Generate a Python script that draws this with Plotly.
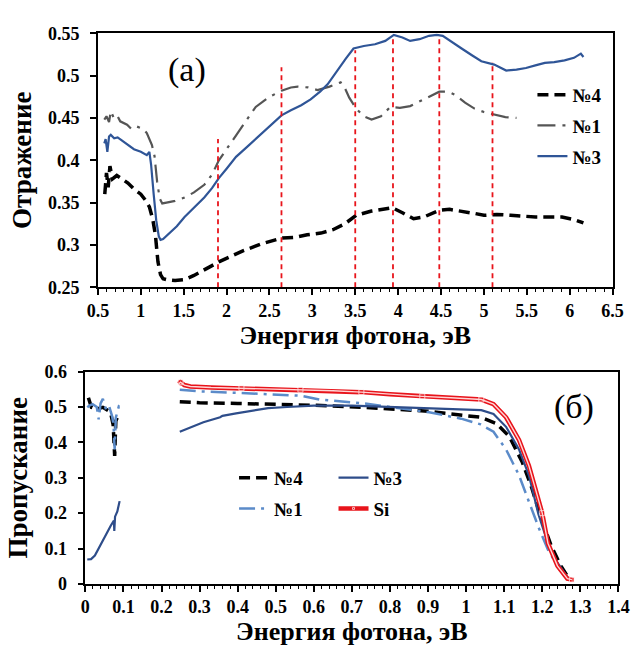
import plotly.graph_objects as go

# ---------------- data: panel (a) reflection ----------------
x_n4_a = [0.58, 0.60, 0.62, 0.64, 0.67, 0.72, 0.78, 0.85, 0.92, 1.00, 1.06, 1.10, 1.14, 1.17, 1.20, 1.23, 1.26, 1.30, 1.40, 1.51, 1.62, 1.72, 1.82, 1.91, 2.05, 2.19, 2.40, 2.64, 2.80, 2.94, 3.10, 3.24, 3.38, 3.51, 3.69, 3.93, 4.05, 4.18, 4.30, 4.48, 4.60, 4.75, 4.90, 5.00, 5.15, 5.31, 5.45, 5.60, 5.75, 5.91, 6.05, 6.16]
y_n4_a = [0.36, 0.385, 0.368, 0.393, 0.378, 0.382, 0.378, 0.373, 0.366, 0.36, 0.352, 0.345, 0.33, 0.312, 0.28, 0.265, 0.26, 0.259, 0.258, 0.259, 0.264, 0.27, 0.275, 0.28, 0.287, 0.293, 0.301, 0.308, 0.309, 0.312, 0.314, 0.318, 0.325, 0.335, 0.34, 0.344, 0.338, 0.331, 0.333, 0.341, 0.342, 0.34, 0.337, 0.335, 0.336, 0.335, 0.334, 0.333, 0.333, 0.333, 0.33, 0.326]

x_n1_a = [0.575, 0.60, 0.63, 0.65, 0.69, 0.73, 0.76, 0.80, 0.84, 0.89, 0.95, 1.00, 1.03, 1.07, 1.10, 1.13, 1.16, 1.19, 1.22, 1.25, 1.30, 1.40, 1.51, 1.62, 1.74, 1.83, 1.91, 2.00, 2.11, 2.22, 2.34, 2.50, 2.64, 2.75, 2.83, 2.95, 3.06, 3.20, 3.28, 3.33, 3.38, 3.43, 3.51, 3.60, 3.69, 3.80, 3.91, 4.02, 4.14, 4.30, 4.48, 4.58, 4.67, 4.78, 4.89, 5.00, 5.12, 5.25, 5.38]
y_n1_a = [0.448, 0.452, 0.445, 0.458, 0.449, 0.452, 0.446, 0.444, 0.442, 0.437, 0.44, 0.438, 0.437, 0.432, 0.425, 0.418, 0.405, 0.375, 0.355, 0.349, 0.35, 0.352, 0.356, 0.362, 0.371, 0.383, 0.40, 0.413, 0.43, 0.446, 0.463, 0.475, 0.482, 0.486, 0.487, 0.486, 0.483, 0.487, 0.49, 0.492, 0.485, 0.474, 0.461, 0.452, 0.448, 0.452, 0.463, 0.462, 0.464, 0.472, 0.481, 0.481, 0.477, 0.468, 0.461, 0.457, 0.454, 0.451, 0.45]

x_n3_a = [0.575, 0.59, 0.61, 0.63, 0.65, 0.69, 0.73, 0.80, 0.86, 0.92, 1.00, 1.07, 1.10, 1.12, 1.15, 1.18, 1.21, 1.23, 1.26, 1.35, 1.42, 1.51, 1.62, 1.74, 1.83, 1.91, 2.00, 2.11, 2.22, 2.34, 2.50, 2.64, 2.75, 2.87, 2.98, 3.09, 3.18, 3.28, 3.39, 3.48, 3.60, 3.73, 3.85, 3.95, 4.05, 4.14, 4.25, 4.36, 4.45, 4.52, 4.63, 4.74, 4.86, 4.97, 5.12, 5.26, 5.38, 5.49, 5.60, 5.71, 5.82, 5.94, 6.05, 6.13, 6.16]
y_n3_a = [0.42, 0.425, 0.41, 0.428, 0.43, 0.426, 0.427, 0.422, 0.418, 0.413, 0.41, 0.406, 0.41, 0.395, 0.36, 0.329, 0.31, 0.306, 0.307, 0.315, 0.322, 0.333, 0.344, 0.356, 0.367, 0.379, 0.39, 0.404, 0.414, 0.425, 0.44, 0.453, 0.459, 0.465, 0.472, 0.481, 0.49, 0.505, 0.52, 0.532, 0.535, 0.537, 0.541, 0.548, 0.545, 0.541, 0.543, 0.547, 0.548, 0.547, 0.54, 0.532, 0.524, 0.517, 0.513, 0.506, 0.507, 0.509, 0.512, 0.515, 0.516, 0.518, 0.521, 0.526, 0.522]

peak_x = [1.9, 2.64, 3.5, 3.94, 4.48, 5.1]
peak_top = [0.425, 0.51, 0.53, 0.545, 0.545, 0.516]

# ---------------- data: panel (б) transmission ----------------
x_n4_b = [0.008, 0.016, 0.029, 0.046, 0.06, 0.067, 0.073, 0.077, 0.08, 0.084, 0.088, None, 0.248, 0.3, 0.4, 0.5, 0.6, 0.734, 0.818, 0.9, 0.945, 1.0, 1.038, 1.08, 1.114, 1.148, 1.173, 1.194, 1.224, 1.249, 1.27, 1.275]
y_n4_b = [0.526, 0.499, 0.494, 0.499, 0.49, 0.48, 0.45, 0.362, 0.46, 0.471, 0.467, None, 0.515, 0.512, 0.51, 0.508, 0.505, 0.499, 0.494, 0.488, 0.482, 0.476, 0.471, 0.453, 0.416, 0.343, 0.27, 0.197, 0.106, 0.051, 0.015, 0.012]

x_n1_b = [0.005, 0.012, 0.019, 0.025, 0.03, 0.035, 0.04, 0.046, 0.055, 0.063, 0.07, 0.074, 0.077, 0.08, 0.084, 0.088, 0.092, None, 0.248, 0.3, 0.4, 0.48, 0.565, 0.616, 0.734, 0.87, 0.903, 0.987, 1.038, 1.072, 1.105, 1.139, 1.165, 1.19, 1.215, 1.24, 1.266, 1.275]
y_n1_b = [0.499, 0.505, 0.508, 0.503, 0.5, 0.465, 0.51, 0.523, 0.49, 0.5, 0.475, 0.45, 0.38, 0.47, 0.49, 0.502, 0.5, None, 0.549, 0.544, 0.54, 0.537, 0.532, 0.521, 0.51, 0.49, 0.485, 0.467, 0.451, 0.43, 0.38, 0.307, 0.234, 0.161, 0.097, 0.051, 0.019, 0.012]

x_n3_b = [0.005, 0.015, 0.025, 0.033, 0.05, 0.067, 0.075, 0.076, 0.078, 0.084, 0.09, None, 0.248, 0.28, 0.31, 0.354, 0.36, 0.396, 0.44, 0.48, 0.53, 0.6, 0.7, 0.8, 0.9, 0.97, 1.04, 1.072, 1.105, 1.139, 1.165, 1.19, 1.215, 1.24, 1.266, 1.275]
y_n3_b = [0.069, 0.07, 0.08, 0.097, 0.133, 0.165, 0.179, 0.15, 0.19, 0.205, 0.234, None, 0.43, 0.445, 0.457, 0.471, 0.475, 0.482, 0.49, 0.497, 0.5, 0.504, 0.504, 0.5, 0.497, 0.494, 0.491, 0.48, 0.444, 0.38, 0.307, 0.197, 0.115, 0.06, 0.019, 0.012]

x_si = [0.245, 0.25, 0.26, 0.276, 0.33, 0.41, 0.49, 0.565, 0.65, 0.725, 0.8, 0.885, 0.96, 1.04, 1.072, 1.105, 1.139, 1.165, 1.2, 1.215, 1.24, 1.266, 1.278]
y_si = [0.565, 0.57, 0.562, 0.558, 0.555, 0.553, 0.551, 0.549, 0.546, 0.542, 0.536, 0.53, 0.526, 0.521, 0.508, 0.471, 0.407, 0.334, 0.2, 0.115, 0.051, 0.015, 0.012]
si_marked = [0, 1, 0, 0, 0, 1, 0, 1, 0, 1, 0, 1, 0, 1, 0, 0, 0, 0, 1, 0, 0, 0, 1]

# ---------------- styling ----------------
SERIF = "Liberation Serif"
BLACK = "#000000"
GRAY = "#555555"
DBLUE = "#2f5597"
DBLUE2 = "#2e4d8a"
LBLUE = "#5b8bc9"
RED = "#e8141b"

fig = go.Figure()

# panel (a)
fig.add_trace(go.Scatter(x=x_n4_a, y=y_n4_a, mode="lines", name="№4", legend="legend", legendgroup="a4",
                         line=dict(color=BLACK, width=3.5, dash="11px,6px"), xaxis="x", yaxis="y"))
fig.add_trace(go.Scatter(x=x_n1_a, y=y_n1_a, mode="lines", name="№1", legend="legend", legendgroup="a1",
                         line=dict(color=GRAY, width=2.2, dash="18px,7px,3px,7px"), xaxis="x", yaxis="y"))
fig.add_trace(go.Scatter(x=x_n3_a, y=y_n3_a, mode="lines", name="№3", legend="legend", legendgroup="a3",
                         line=dict(color=DBLUE, width=2.2), xaxis="x", yaxis="y"))

# panel (б)
fig.add_trace(go.Scatter(x=x_n4_b, y=y_n4_b, mode="lines", name="№4", legend="legend2", legendgroup="b4",
                         line=dict(color=BLACK, width=3.5, dash="11px,6px"), xaxis="x2", yaxis="y2"))
fig.add_trace(go.Scatter(x=x_n1_b, y=y_n1_b, mode="lines", name="№1", legend="legend2", legendgroup="b1",
                         line=dict(color=LBLUE, width=2.5, dash="16px,6px,3px,6px"), xaxis="x2", yaxis="y2"))
fig.add_trace(go.Scatter(x=x_n3_b, y=y_n3_b, mode="lines", name="№3", legend="legend3", legendgroup="b3",
                         line=dict(color=DBLUE2, width=2.2), xaxis="x2", yaxis="y2"))
fig.add_trace(go.Scatter(x=x_si, y=y_si, mode="lines+markers", name="Si", legend="legend3", legendgroup="b5",
                         line=dict(color=RED, width=4.5),
                         marker=dict(color=RED, size=[5 * m for m in si_marked], symbol="square"),
                         xaxis="x2", yaxis="y2"))
fig.add_trace(go.Scatter(x=x_si, y=y_si, mode="lines", showlegend=False, hoverinfo="skip",
                         line=dict(color="#ffd6d6", width=1.4), xaxis="x2", yaxis="y2"))

# vertical red dashed markers of features in (a)
for px, pt in zip(peak_x, peak_top):
    fig.add_shape(type="line", xref="x", yref="y", x0=px, x1=px, y0=0.25, y1=pt,
                  line=dict(color=RED, width=1.8, dash="5px,4px"))

tickfont = dict(family=SERIF, size=18, color="black", weight="bold")
titlefont = dict(family=SERIF, size=26, color="black", weight="bold")
ytitlefont = dict(family=SERIF, size=27, color="black", weight="bold")
legfont = dict(family=SERIF, size=19, color="black", weight="bold")

axis_common = dict(showline=True, linecolor="black", linewidth=1.5, mirror=True,
                   showgrid=False, zeroline=False, ticks="outside", ticklen=6, tickwidth=1.5,
                   tickcolor="black", tickfont=tickfont)

fig.update_layout(
    width=640, height=655, margin=dict(l=0, r=0, t=0, b=0),
    paper_bgcolor="white", plot_bgcolor="white",
    xaxis=dict(domain=[90 / 640, 623 / 640], anchor="y", range=[0.5, 6.5], tick0=0.5, dtick=0.5,
               minor=dict(dtick=0.1, ticks="outside", ticklen=3, tickwidth=1, tickcolor="black"),
               title=dict(text="Энергия фотона, эВ", font=titlefont, standoff=0), **axis_common),
    yaxis=dict(domain=[1 - 286 / 655, 1 - 24 / 655], anchor="x", range=[0.25, 0.55], dtick=0.05,
               ticklabelstandoff=7,
               title=dict(text="Отражение", font=ytitlefont, standoff=9),
               **axis_common),
    xaxis2=dict(domain=[77 / 640, 629 / 640], anchor="y2", range=[0, 1.4], dtick=0.1,
                minor=dict(dtick=0.02, ticks="outside", ticklen=3, tickwidth=1, tickcolor="black"),
                title=dict(text="Энергия фотона, эВ", font=titlefont, standoff=0), **axis_common),
    yaxis2=dict(domain=[1 - 592 / 655, 1 - 373 / 655], anchor="x2", range=[0, 0.6], dtick=0.1,
                ticklabelstandoff=7,
                title=dict(text="Пропускание", font=ytitlefont, standoff=9),
                **axis_common),
    legend=dict(x=540 / 640, y=1 - 68 / 655, xanchor="left", yanchor="top", font=legfont,
                bgcolor="rgba(0,0,0,0)", tracegroupgap=3),
    legend2=dict(x=231 / 640, y=1 - 463 / 655, xanchor="left", yanchor="top", font=legfont,
                 bgcolor="rgba(0,0,0,0)", tracegroupgap=3),
    legend3=dict(x=334 / 640, y=1 - 463 / 655, xanchor="left", yanchor="top", font=legfont,
                 bgcolor="rgba(0,0,0,0)", tracegroupgap=3),
    annotations=[
        dict(text="(a)", x=182 / 640, y=1 - 62 / 655, xref="paper", yref="paper", showarrow=False,
             xanchor="center", yanchor="middle", font=dict(family=SERIF, size=34, color="black")),
        dict(text="(б)", x=583 / 640, y=1 - 410 / 655, xref="paper", yref="paper", showarrow=False,
             xanchor="center", yanchor="middle", font=dict(family=SERIF, size=34, color="black")),
    ],
)

fig.write_html("out.html")
